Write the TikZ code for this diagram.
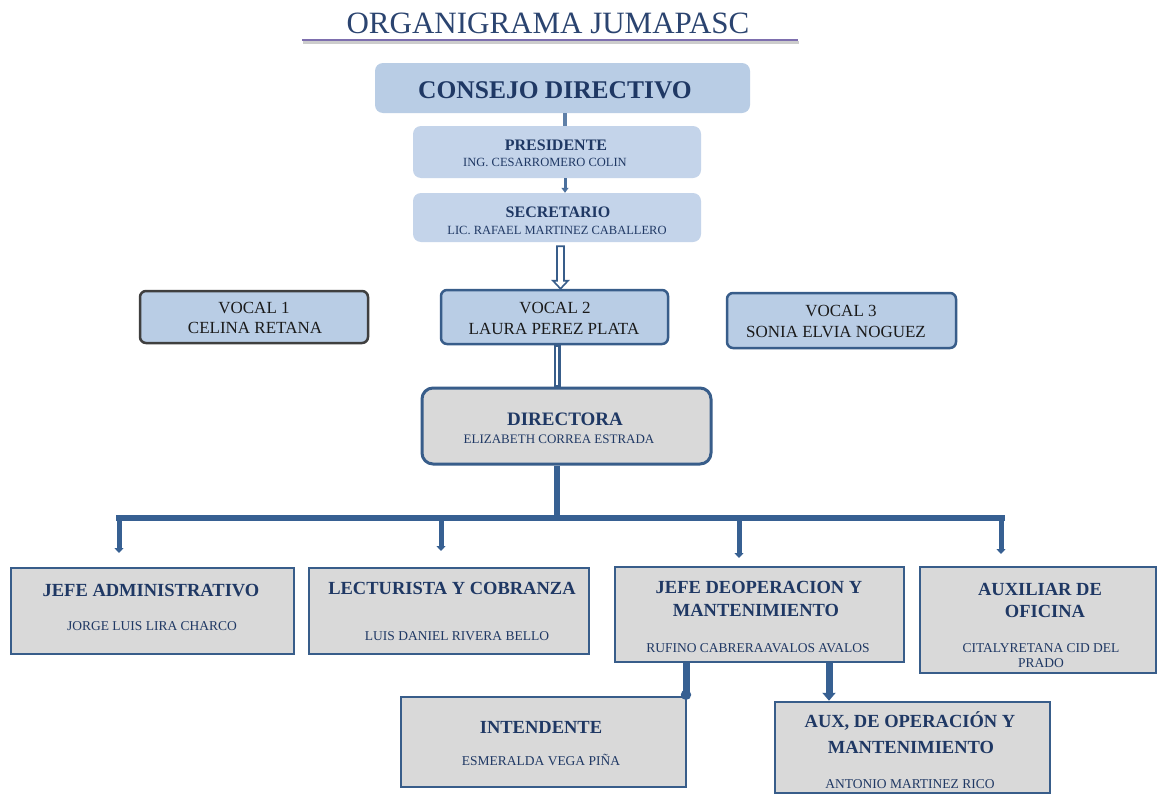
\documentclass[tikz,border=0pt]{standalone}
\usepackage{fontspec}
\setmainfont{Liberation Serif}
\usetikzlibrary{arrows.meta,calc}
\definecolor{navy}{HTML}{1F3864}
\definecolor{titleblue}{HTML}{2B4470}
\definecolor{boxblue}{HTML}{B9CDE5}
\definecolor{boxblueb}{HTML}{C4D4EA}
\definecolor{boxgray}{HTML}{D9D9D9}
\definecolor{edge}{HTML}{385D8A}
\definecolor{darkedge}{HTML}{3F3F3F}
\definecolor{lineblue}{HTML}{376092}
\definecolor{ruleviolet}{HTML}{7E6FAE}
\definecolor{vocaltext}{HTML}{1A1A1A}
\newcommand{\fs}[1]{\fontsize{#1}{#1}\selectfont}
\begin{document}
\begin{tikzpicture}[x=1pt,y=-1pt,
  softbox/.style={rounded corners=8pt, fill=boxblue, inner sep=0pt},
  softboxb/.style={rounded corners=8pt, fill=boxblueb, inner sep=0pt},
  vocalbox/.style={rounded corners=6pt, fill=boxblue, draw=edge, line width=2.5pt, inner sep=0pt},
  dirbox/.style={rounded corners=11pt, fill=boxgray, draw=edge, line width=3pt, inner sep=0pt},
  graybox/.style={fill=boxgray, draw=edge, line width=2.5pt, inner sep=0pt},
  head/.style={text=navy, font=\bfseries, anchor=base, inner sep=0pt},
  sub/.style={text=navy, anchor=base, inner sep=0pt},
  vtext/.style={text=vocaltext, anchor=base, inner sep=0pt},
  busline/.style={draw=lineblue, line width=5.5pt},
  drop/.style={draw=lineblue, line width=5pt, -{Triangle[width=9pt,length=5pt]}},
  thickdrop/.style={draw=lineblue, line width=7pt, -{Triangle[width=13pt,length=8pt]}},
  dotdrop/.style={draw=lineblue, line width=7pt, -{Circle[width=10pt,length=10pt]}}
]
\useasboundingbox (0,0) rectangle (1157,795);
\fill[white] (0,0) rectangle (1157,795);

% title
\node[text=titleblue, anchor=base, inner sep=0pt, font=\fs{31}] (title) at (548,33) {ORGANIGRAMA JUMAPASC};
\coordinate (ruleL) at (302,40);
\coordinate (ruleR) at (798,40);
\draw[gray!40, line width=3pt] ($(ruleL)+(1,2)$) -- ($(ruleR)+(1,2)$);
\draw[ruleviolet, line width=2.8pt] (ruleL) -- (ruleR);

% top boxes
\node[softbox, minimum width=375pt, minimum height=50pt] (consejo) at (562.5,88) {};
\node[head, font=\bfseries\fs{25.5}] (consejoT) at (555,98) {CONSEJO DIRECTIVO};

\node[softboxb, minimum width=288pt, minimum height=52pt] (pres) at (557,152) {};
\node[head, font=\bfseries\fs{16}] (presT) at (556,150) {PRESIDENTE};
\node[sub, font=\fs{12.5}] (presN) at (545,166) {ING. CESARROMERO COLIN};

\node[softboxb, minimum width=288pt, minimum height=49pt] (sec) at (557,217.5) {};
\node[head, font=\bfseries\fs{16}] (secT) at (558,217) {SECRETARIO};
\node[sub, font=\fs{12.5}] (secN) at (557,234) {LIC. RAFAEL MARTINEZ CABALLERO};

% vocales
\node[vocalbox, draw=darkedge, minimum width=228pt, minimum height=52pt] (v1) at (254,317) {};
\node[vtext, font=\fs{17}] (v1a) at (254,313) {VOCAL 1};
\node[vtext, font=\fs{17}] (v1b) at (255,333) {CELINA RETANA};

\node[vocalbox, minimum width=227pt, minimum height=54pt] (v2) at (554.5,317) {};
\node[vtext, font=\fs{17}] (v2a) at (555,313) {VOCAL 2};
\node[vtext, font=\fs{17}] (v2b) at (554,334) {LAURA PEREZ PLATA};

\node[vocalbox, minimum width=229pt, minimum height=55pt] (v3) at (841.5,320.5) {};
\node[vtext, font=\fs{17}] (v3a) at (841,316) {VOCAL 3};
\node[vtext, font=\fs{17}] (v3b) at (836,337) {SONIA ELVIA NOGUEZ};

% directora
\node[dirbox, minimum width=289pt, minimum height=76pt] (dir) at (566.5,426) {};
\node[head, font=\bfseries\fs{19}] (dirT) at (565,425) {DIRECTORA};
\node[sub, font=\fs{13}] (dirN) at (559,443) {ELIZABETH CORREA ESTRADA};

% lower boxes
\node[graybox, minimum width=283pt, minimum height=86pt] (ja) at (152.5,611) {};
\node[head, font=\bfseries\fs{18.5}] (jaT) at (151,596) {JEFE ADMINISTRATIVO};
\node[sub, font=\fs{13.5}] (jaN) at (152,630) {JORGE LUIS LIRA CHARCO};

\node[graybox, minimum width=280pt, minimum height=86pt] (lc) at (449,611) {};
\node[head, font=\bfseries\fs{18.5}] (lcT) at (452,594) {LECTURISTA Y COBRANZA};
\node[sub, font=\fs{13.5}] (lcN) at (457,640) {LUIS DANIEL RIVERA BELLO};

\node[graybox, minimum width=289pt, minimum height=95pt] (jo) at (759.5,614.5) {};
\node[head, font=\bfseries\fs{18.5}] (joT1) at (759,593) {JEFE DEOPERACION Y};
\node[head, font=\bfseries\fs{18.5}] (joT2) at (756,616) {MANTENIMIENTO};
\node[sub, font=\fs{13.5}] (joN) at (758,652) {RUFINO CABRERAAVALOS AVALOS};

\node[graybox, minimum width=236pt, minimum height=106pt] (ao) at (1038,620) {};
\node[head, font=\bfseries\fs{18.5}] (aoT1) at (1040,595) {AUXILIAR DE};
\node[head, font=\bfseries\fs{18.5}] (aoT2) at (1045,617) {OFICINA};
\node[sub, font=\fs{13.5}] (aoN1) at (1041,652) {CITALYRETANA CID DEL};
\node[sub, font=\fs{13.5}] (aoN2) at (1041,667) {PRADO};

\node[graybox, minimum width=285pt, minimum height=90pt] (int) at (543.5,742) {};
\node[head, font=\bfseries\fs{18.5}] (intT) at (541,733) {INTENDENTE};
\node[sub, font=\fs{13.5}] (intN) at (541,765) {ESMERALDA VEGA PIÑA};

\node[graybox, minimum width=275pt, minimum height=91pt] (ax) at (912.5,747.5) {};
\node[head, font=\bfseries\fs{18.5}] (axT1) at (910,727) {AUX, DE OPERACIÓN Y};
\node[head, font=\bfseries\fs{18.5}] (axT2) at (911,753) {MANTENIMIENTO};
\node[sub, font=\fs{13.5}] (axN) at (910,788) {ANTONIO MARTINEZ RICO};

% connectors top
\coordinate (cx1) at (565,0);
\draw[lineblue!80, line width=3.5pt] (consejo.south -| cx1) -- (pres.north -| cx1);
\draw[lineblue!90, line width=3pt, -{Triangle[width=7pt,length=5pt]}] (pres.south -| cx1) -- (sec.north -| cx1);

% hollow arrow secretario -> vocal 2
\coordinate (hx) at (560.5,0);
\coordinate (hs) at ($(sec.south -| hx)+(0,4)$);
\coordinate (he) at (v2.north -| hx);
\draw[edge, fill=white, line width=1.6pt, line join=miter]
  ($(hs)+(-3.5,0)$) -- ($(he)+(-3.5,-8)$) -- ($(he)+(-7.5,-8)$) -- (he)
  -- ($(he)+(7.5,-8)$) -- ($(he)+(3.5,-8)$) -- ($(hs)+(3.5,0)$) -- cycle;

% double line vocal 2 -> directora
\coordinate (dx) at (557,0);
\draw[edge, line width=7pt] (v2.south -| dx) -- (dir.north -| dx);
\draw[white, line width=2.6pt] ($(v2.south -| dx)+(0,1.5)$) -- ($(dir.north -| dx)+(0,-1.5)$);

% bus
\coordinate (busy) at (0,518);
\coordinate (bL) at (119,518);
\coordinate (bR) at (1002,518);
\draw[busline] (dir.south -| dx) -- (busy -| dx);
\draw[busline, line cap=rect] (bL) -- (bR);
\coordinate (ex1) at (119,553);
\coordinate (ex2) at (441,551);
\coordinate (ex3) at (739,558);
\coordinate (ex4) at (1001,554);
\draw[drop] (bL) -- (ex1);
\draw[drop] (ex2 |- busy) -- (ex2);
\draw[drop] (ex3 |- busy) -- (ex3);
\draw[drop] (ex4 |- busy) -- (ex4);

% jefe de operacion -> subordinates
\coordinate (sx1) at (686,0);
\coordinate (sx2) at (829,0);
\draw[dotdrop] (jo.south -| sx1) -- ($(int.north -| sx1)+(0,4)$);
\draw[thickdrop] (jo.south -| sx2) -- (ax.north -| sx2);
\end{tikzpicture}
\end{document}
